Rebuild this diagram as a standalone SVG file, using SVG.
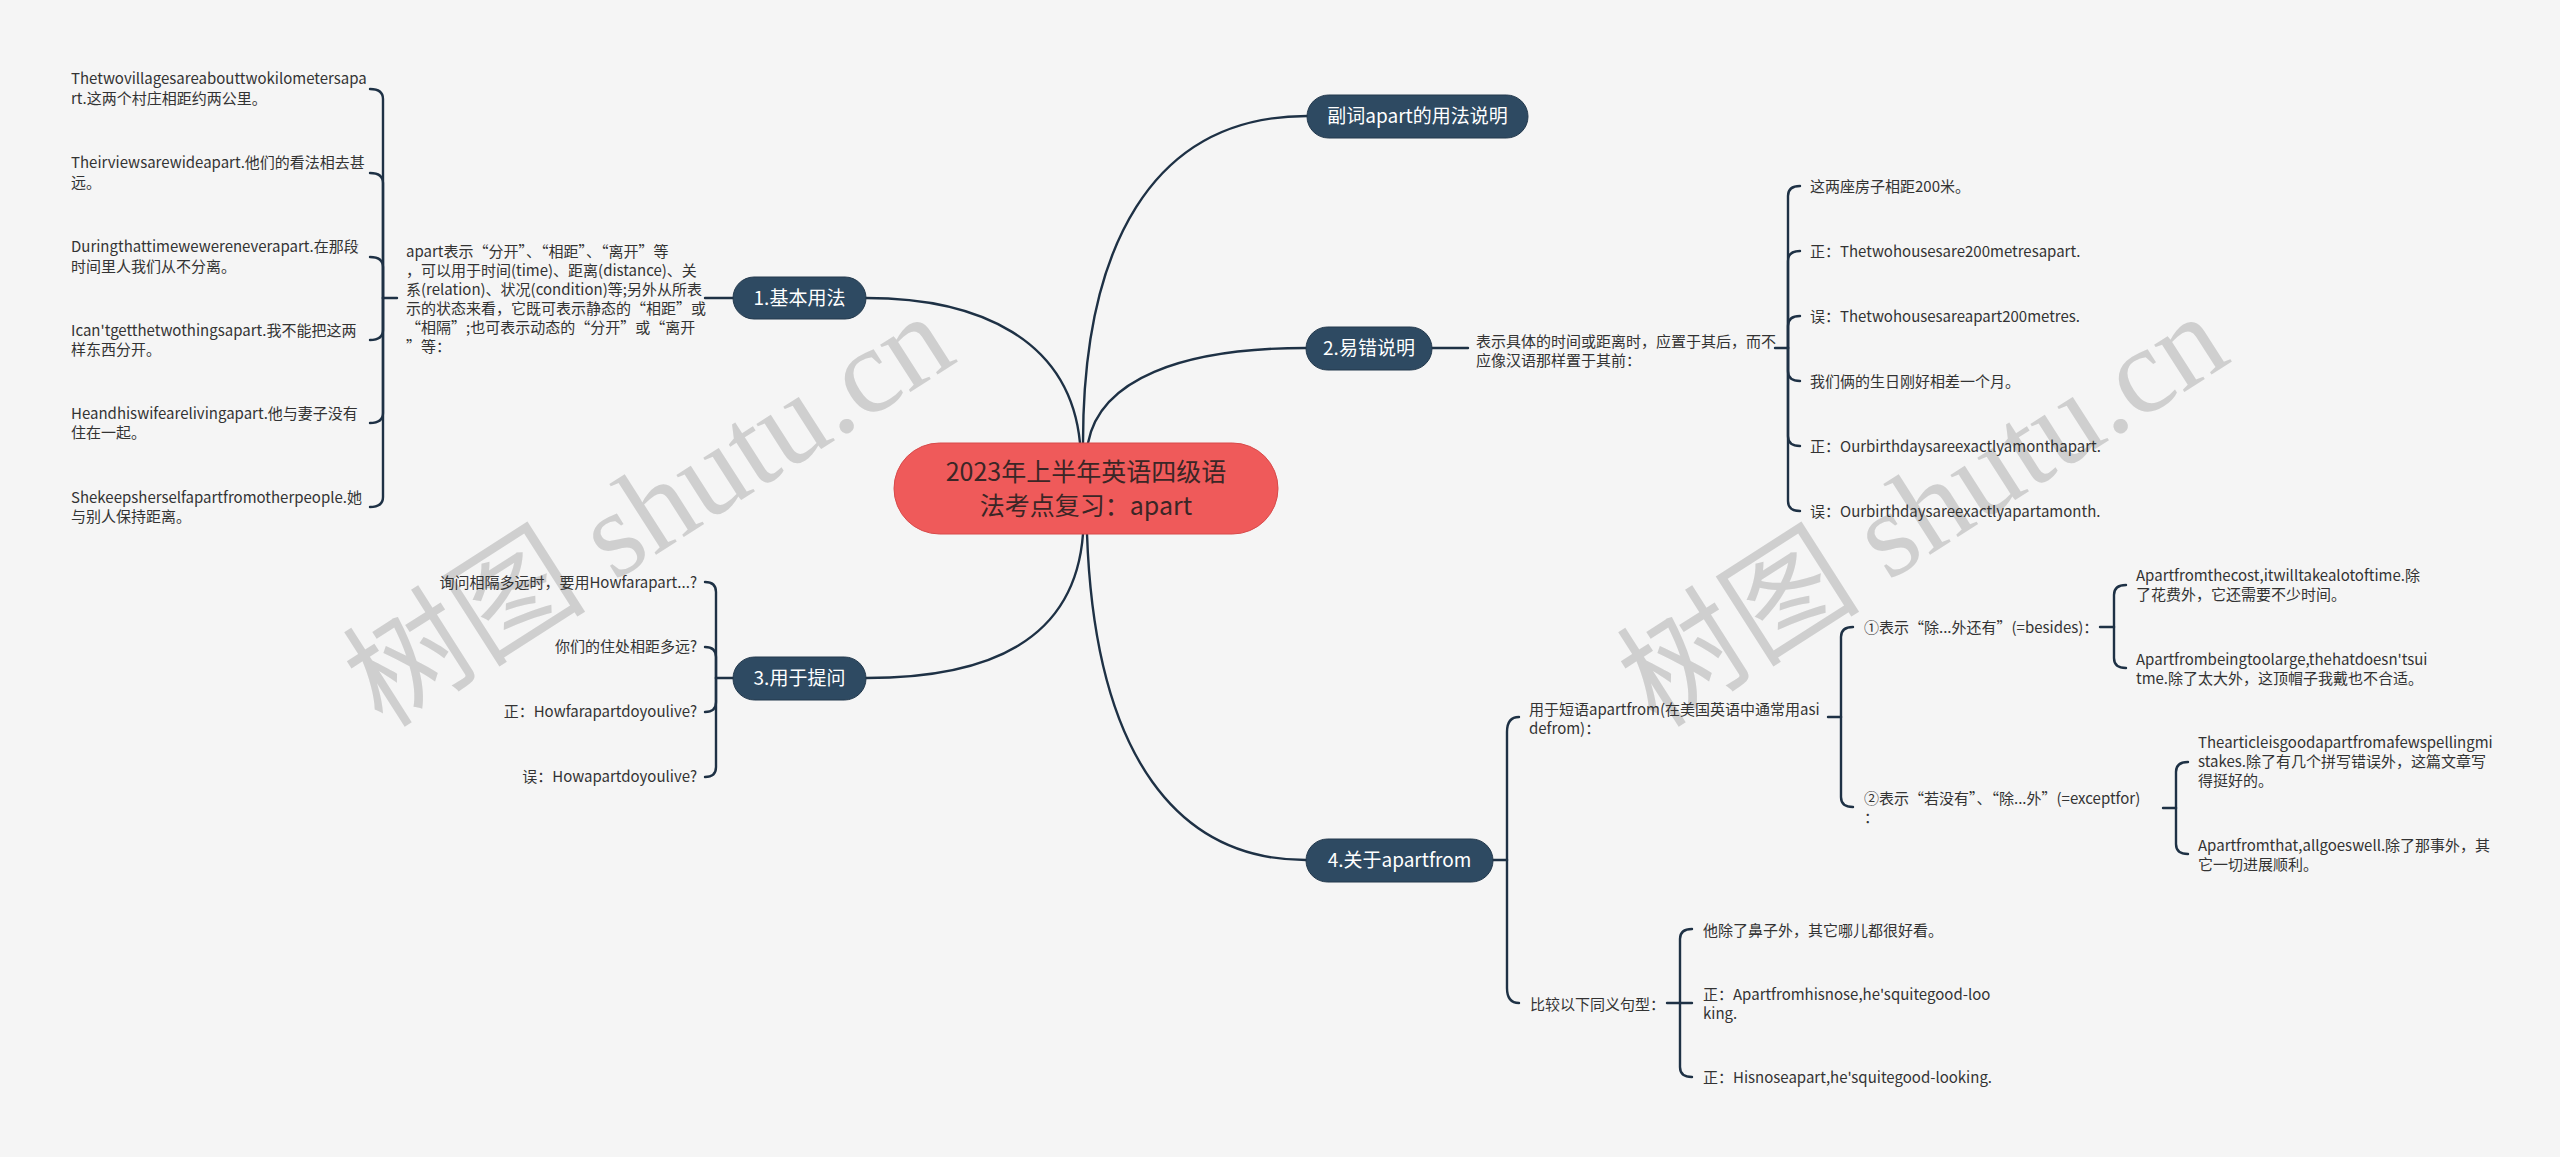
<svg xmlns="http://www.w3.org/2000/svg" width="2560" height="1157" viewBox="0 0 2560 1157">
<style>
.bg{fill:#f5f5f5}
.wm{font-family:"Liberation Serif","Noto Sans CJK SC",serif;font-size:122px;fill:#c9c9c9;opacity:0.85}
.node rect{fill:#2e4a62;stroke:#22384c;stroke-width:1}
.node text{font-family:"Noto Sans CJK SC","Microsoft YaHei",sans-serif;font-size:19px;fill:#ffffff;text-anchor:middle}
.root rect{fill:#ef5a5a;stroke:#d84a4a;stroke-width:1}
.root text{font-family:"Noto Sans CJK SC","Microsoft YaHei",sans-serif;font-size:25px;fill:#3b2626;text-anchor:middle}
.leaf{font-family:"Noto Sans CJK SC","Microsoft YaHei",sans-serif;font-size:15px;fill:#333333}
.end{text-anchor:end}
#connectors path{fill:none;stroke:#1e3145;stroke-width:2.4;stroke-linecap:round}
</style>
<rect class="bg" x="0" y="0" width="2560" height="1157"/>
<g id="watermark">
<text class="wm" x="648" y="509" dy="0.35em" text-anchor="middle" transform="rotate(-32.6 648 509)">树图 shutu.cn</text>
<text class="wm" x="1922" y="509" dy="0.35em" text-anchor="middle" transform="rotate(-32.6 1922 509)">树图 shutu.cn</text>
</g>
<g id="connectors">
<path d="M1083,443 C1083,250 1150,116 1307,116"/>
<path d="M1088,443 C1100,380 1180,348 1306,348"/>
<path d="M1080,443 C1070,340 980,298 866,298"/>
<path d="M1083,534 C1075,640 990,678 866,678"/>
<path d="M1087,534 C1095,760 1180,860 1306,860"/>
<!-- node1 -->
<path d="M733,298 H705"/>
<path d="M397,298 H383"/>
<path d="M383,298 V99 Q383,89 370,89"/>
<path d="M383,298 V183 Q383,173 370,173"/>
<path d="M383,298 V267 Q383,257 370,257"/>
<path d="M383,298 V330 Q383,340 370,340"/>
<path d="M383,298 V413 Q383,423 370,423"/>
<path d="M383,298 V497 Q383,507 370,507"/>
<!-- node3 -->
<path d="M733,678 H716"/>
<path d="M716,678 V592 Q716,582 705,582"/>
<path d="M716,678 V657 Q716,647 705,647"/>
<path d="M716,678 V702 Q716,712 705,712"/>
<path d="M716,678 V767 Q716,777 705,777"/>
<!-- node2 -->
<path d="M1432,348 H1468"/>
<path d="M1775,348 H1788"/>
<path d="M1788,348 V196 Q1788,186 1800,186"/>
<path d="M1788,348 V261 Q1788,251 1800,251"/>
<path d="M1788,348 V326 Q1788,316 1800,316"/>
<path d="M1788,348 V371 Q1788,381 1800,381"/>
<path d="M1788,348 V436 Q1788,446 1800,446"/>
<path d="M1788,348 V501 Q1788,511 1800,511"/>
<!-- node4 -->
<path d="M1493,860 H1507"/>
<path d="M1507,860 V732 Q1507,717 1519,717"/>
<path d="M1507,860 V988 Q1507,1003 1519,1003"/>
<path d="M1828,717 H1841"/>
<path d="M1841,717 V637 Q1841,627 1853,627"/>
<path d="M1841,717 V797 Q1841,807 1853,807"/>
<path d="M2100,627 H2114"/>
<path d="M2114,627 V595 Q2114,585 2126,585"/>
<path d="M2114,627 V658 Q2114,668 2126,668"/>
<path d="M2163,808 H2176"/>
<path d="M2176,808 V772 Q2176,762 2188,762"/>
<path d="M2176,808 V844 Q2176,854 2188,854"/>
<path d="M1667,1003 H1680"/>
<path d="M1680,1003 V939 Q1680,929 1692,929"/>
<path d="M1680,1003 H1692"/>
<path d="M1680,1003 V1067 Q1680,1077 1692,1077"/>
</g>
<g id="root" class="root">
<rect x="894" y="443" width="384" height="91" rx="45.5"/>
<text x="1086" y="481">2023年上半年英语四级语</text>
<text x="1086" y="515">法考点复习：apart</text>
</g>
<g id="n0" class="node">
<rect x="1307" y="95" width="221" height="43" rx="21.5"/>
<text x="1417.5" y="123">副词apart的用法说明</text>
</g>
<g id="n1" class="node">
<rect x="733" y="277" width="133" height="42" rx="21"/>
<text x="799.5" y="304.5">1.基本用法</text>
</g>
<g id="n2" class="node">
<rect x="1306" y="327" width="126" height="43" rx="21.5"/>
<text x="1369" y="355">2.易错说明</text>
</g>
<g id="n3" class="node">
<rect x="733" y="657" width="133" height="43" rx="21.5"/>
<text x="799.5" y="685">3.用于提问</text>
</g>
<g id="n4" class="node">
<rect x="1306" y="839" width="187" height="43" rx="21.5"/>
<text x="1399.5" y="867">4.关于apartfrom</text>
</g>
<g id="n1-desc">
<text class="leaf" x="406"><tspan x="406" y="257">apart表示“分开”、“相距”、“离开”等</tspan><tspan x="406" y="276">，可以用于时间(time)、距离(distance)、关</tspan><tspan x="406" y="295">系(relation)、状况(condition)等;另外从所表</tspan><tspan x="406" y="314">示的状态来看，它既可表示静态的“相距”或</tspan><tspan x="406" y="333">“相隔”;也可表示动态的“分开”或“离开</tspan><tspan x="406" y="352">”等：</tspan></text>
</g>
<g id="n1-c1"><text class="leaf"><tspan x="71" y="84">Thetwovillagesareabouttwokilometersapa</tspan><tspan x="71" y="104">rt.这两个村庄相距约两公里。</tspan></text></g>
<g id="n1-c2"><text class="leaf"><tspan x="71" y="168">Theirviewsarewideapart.他们的看法相去甚</tspan><tspan x="71" y="188">远。</tspan></text></g>
<g id="n1-c3"><text class="leaf"><tspan x="71" y="252">Duringthattimewewereneverapart.在那段</tspan><tspan x="71" y="272">时间里人我们从不分离。</tspan></text></g>
<g id="n1-c4"><text class="leaf"><tspan x="71" y="336">Ican'tgetthetwothingsapart.我不能把这两</tspan><tspan x="71" y="355">样东西分开。</tspan></text></g>
<g id="n1-c5"><text class="leaf"><tspan x="71" y="419">Heandhiswifearelivingapart.他与妻子没有</tspan><tspan x="71" y="438">住在一起。</tspan></text></g>
<g id="n1-c6"><text class="leaf"><tspan x="71" y="503">Shekeepsherselfapartfromotherpeople.她</tspan><tspan x="71" y="522">与别人保持距离。</tspan></text></g>
<g id="n3-c1"><text class="leaf end" x="697" y="588">询问相隔多远时，要用Howfarapart...?</text></g>
<g id="n3-c2"><text class="leaf end" x="697" y="652">你们的住处相距多远?</text></g>
<g id="n3-c3"><text class="leaf end" x="697" y="717">正：Howfarapartdoyoulive?</text></g>
<g id="n3-c4"><text class="leaf end" x="697" y="782">误：Howapartdoyoulive?</text></g>
<g id="n2-desc"><text class="leaf"><tspan x="1476" y="347">表示具体的时间或距离时，应置于其后，而不</tspan><tspan x="1476" y="366">应像汉语那样置于其前：</tspan></text></g>
<g id="n2-c1"><text class="leaf" x="1810" y="192">这两座房子相距200米。</text></g>
<g id="n2-c2"><text class="leaf" x="1810" y="257">正：Thetwohousesare200metresapart.</text></g>
<g id="n2-c3"><text class="leaf" x="1810" y="322">误：Thetwohousesareapart200metres.</text></g>
<g id="n2-c4"><text class="leaf" x="1810" y="387">我们俩的生日刚好相差一个月。</text></g>
<g id="n2-c5"><text class="leaf" x="1810" y="452">正：Ourbirthdaysareexactlyamonthapart.</text></g>
<g id="n2-c6"><text class="leaf" x="1810" y="517">误：Ourbirthdaysareexactlyapartamonth.</text></g>
<g id="n4-c1"><text class="leaf"><tspan x="1529" y="715">用于短语apartfrom(在美国英语中通常用asi</tspan><tspan x="1529" y="734">defrom)：</tspan></text></g>
<g id="n4-c1-a"><text class="leaf" x="1864" y="633">①表示“除...外还有”(=besides)：</text></g>
<g id="n4-c1-a1"><text class="leaf"><tspan x="2136" y="581">Apartfromthecost,itwilltakealotoftime.除</tspan><tspan x="2136" y="600">了花费外，它还需要不少时间。</tspan></text></g>
<g id="n4-c1-a2"><text class="leaf"><tspan x="2136" y="665">Apartfrombeingtoolarge,thehatdoesn'tsui</tspan><tspan x="2136" y="684">tme.除了太大外，这顶帽子我戴也不合适。</tspan></text></g>
<g id="n4-c1-b"><text class="leaf"><tspan x="1864" y="804">②表示“若没有”、“除...外”(=exceptfor)</tspan><tspan x="1864" y="823">：</tspan></text></g>
<g id="n4-c1-b1"><text class="leaf"><tspan x="2198" y="748">Thearticleisgoodapartfromafewspellingmi</tspan><tspan x="2198" y="767">stakes.除了有几个拼写错误外，这篇文章写</tspan><tspan x="2198" y="786">得挺好的。</tspan></text></g>
<g id="n4-c1-b2"><text class="leaf"><tspan x="2198" y="851">Apartfromthat,allgoeswell.除了那事外，其</tspan><tspan x="2198" y="870">它一切进展顺利。</tspan></text></g>
<g id="n4-c2"><text class="leaf" x="1530" y="1010">比较以下同义句型：</text></g>
<g id="n4-c2-1"><text class="leaf" x="1703" y="936">他除了鼻子外，其它哪儿都很好看。</text></g>
<g id="n4-c2-2"><text class="leaf"><tspan x="1703" y="1000">正：Apartfromhisnose,he'squitegood-loo</tspan><tspan x="1703" y="1019">king.</tspan></text></g>
<g id="n4-c2-3"><text class="leaf" x="1703" y="1083">正：Hisnoseapart,he'squitegood-looking.</text></g>
</svg>
